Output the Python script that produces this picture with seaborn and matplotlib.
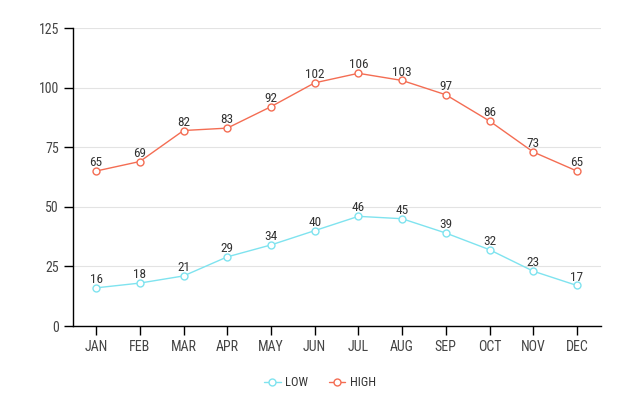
import matplotlib
matplotlib.use("Agg")
import matplotlib.pyplot as plt
import seaborn as sns
import pandas as pd

months = ["JAN", "FEB", "MAR", "APR", "MAY", "JUN", "JUL", "AUG", "SEP", "OCT", "NOV", "DEC"]
low = [16, 18, 21, 29, 34, 40, 46, 45, 39, 32, 23, 17]
high = [65, 69, 82, 83, 92, 102, 106, 103, 97, 86, 73, 65]
series_names = ["LOW", "HIGH"]
colors = {"LOW": "#7fe3ef", "HIGH": "#f46d53"}
yticks = [0, 25, 50, 75, 100, 125]

sns.set_theme(style="white")
plt.rcParams['font.family'] = ['Roboto Condensed', 'Liberation Sans Narrow', 'Roboto', 'DejaVu Sans']

df = pd.DataFrame({
    "month": months * 2,
    "x": list(range(len(months))) * 2,
    "value": low + high,
    "series": ["LOW"] * len(low) + ["HIGH"] * len(high),
})

fig = plt.figure(figsize=(6.4, 4.0), dpi=100)
ax = fig.add_axes([0.114, 0.185, 0.825, 0.745])

sns.lineplot(data=df, x="x", y="value", hue="series", hue_order=series_names,
             palette=colors, marker="o", markersize=5, markerfacecolor="white",
             markeredgewidth=1.0, linewidth=1.0, ax=ax, legend=True)
for line in ax.lines:
    line.set_markeredgecolor(line.get_color())
    line.set_markerfacecolor("white")

for name, vals in zip(series_names, [low, high]):
    for i, v in enumerate(vals):
        ax.annotate(str(v), (i, v), xytext=(0, 3.5), textcoords="offset points",
                    ha="center", va="baseline", fontsize=9.5, color="#333333")

ax.set_xlim(-0.53, 11.55)
ax.set_ylim(0, 125)
ax.set_yticks(yticks)
ax.set_xticks(range(len(months)))
ax.set_xticklabels(months)
ax.set_xlabel("")
ax.set_ylabel("")
ax.yaxis.grid(True, color="#e3e3e3", linewidth=0.8)
ax.set_axisbelow(True)
for s in ["top", "right"]:
    ax.spines[s].set_visible(False)
for s in ["left", "bottom"]:
    ax.spines[s].set_color("black")
    ax.spines[s].set_linewidth(1.0)
ax.tick_params(axis="both", which="both", length=6.5, width=1.0, color="black",
               direction="out", labelsize=10, labelcolor="#444444", pad=3.5,
               left=True, bottom=True)

handles, labels = ax.get_legend_handles_labels()
for h in handles:
    h.set_markerfacecolor("white")
    h.set_markeredgecolor(h.get_color())
ax.get_legend().remove()
fig.legend(handles, labels, loc="center", bbox_to_anchor=(0.5, 0.043),
           ncol=2, frameon=False, fontsize=9, handlelength=1.35,
           columnspacing=1.6, handletextpad=0.4, labelcolor="#333333")

fig.savefig("out.png", dpi=100)
